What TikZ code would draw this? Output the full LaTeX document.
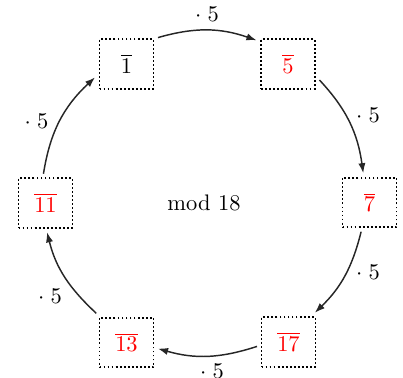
\documentclass[tikz,border=0pt]{standalone}
\usetikzlibrary{arrows.meta}
\begin{document}
\begin{tikzpicture}[x=0.445pt,y=0.445pt,
  cls/.style={draw, thick, densely dotted, minimum width=24pt, minimum height=22pt,
              inner sep=0pt, outer sep=2pt},
  arr/.style={draw=black!85, line width=0.65pt, -{Latex[length=4.5pt,width=3.2pt]}},
  lbl/.style={inner sep=0pt}]
\useasboundingbox (0,0) rectangle (403,-378);

% residue classes on a hexagon
\node[cls] (n1)  at (126.5,-64)  {$\overline{1}$};
\node[cls] (n5)  at (288,-64)    {\color{red}$\overline{5}$};
\node[cls] (n7)  at (369.5,-202.5) {\color{red}$\overline{7}$};
\node[cls] (n17) at (288.5,-342) {\color{red}$\overline{17}$};
\node[cls] (n13) at (126.5,-342.5) {\color{red}$\overline{13}$};
\node[cls] (n11) at (45.5,-203)  {\color{red}$\overline{11}$};

\node (mod) at (204,-203) {mod 18};

% multiplication by 5
\draw[arr] (n1.40)    to[out=16,in=161]   (n5.143);
\draw[arr] (n5.-27)   to[out=-47,in=98]   (n7.102);
\draw[arr] (n7.-106)  to[out=-104,in=44]  (n17.48);
\draw[arr] (n17.188)  to[out=-162,in=-16] (n13.-11);
\draw[arr] (n13.136)  to[out=137,in=-76]  (n11.-87);
\draw[arr] (n11.94)   to[out=81,in=223]   (n1.203);

\node[lbl] (l1) at (207,-14)   {$\cdot\;5$};
\node[lbl] (l2) at (368,-115)  {$\cdot\;5$};
\node[lbl] (l3) at (368,-272)  {$\cdot\;5$};
\node[lbl] (l4) at (212,-371)  {$\cdot\;5$};
\node[lbl] (l5) at (50,-296)   {$\cdot\;5$};
\node[lbl] (l6) at (36.5,-121) {$\cdot\;5$};
\end{tikzpicture}
\end{document}
